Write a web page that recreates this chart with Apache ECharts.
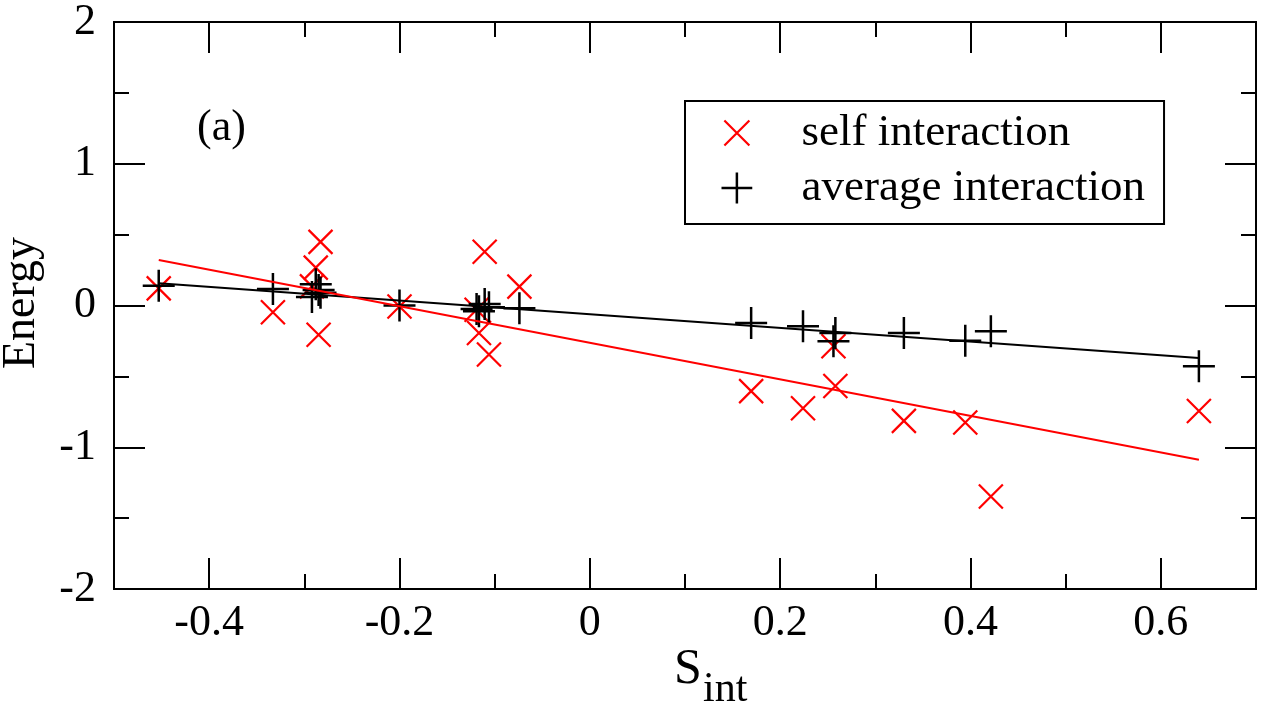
<!DOCTYPE html>
<html>
<head>
<meta charset="utf-8">
<script src="https://cdn.jsdelivr.net/npm/echarts@6/dist/echarts.min.js"></script>
<style>
  html, body { margin: 0; padding: 0; background: #ffffff; }
  #chart { width: 1262px; height: 712px; }
</style>
</head>
<body>
<div id="chart"></div>
<script>
// Overlap integral of each system and its two interaction energies
const sInt = [-0.453, -0.333, -0.288, -0.283, -0.292, -0.285, -0.200,
  -0.1105, -0.1165, -0.106, -0.119, -0.074,
  0.1695, 0.224, 0.258, 0.256, 0.330, 0.3945, 0.4214, 0.640];
const selfEnergy = [0.121, -0.047, 0.267, 0.449, 0.135, -0.206, -0.007,
  0.379, -0.194, -0.346, -0.03, 0.133,
  -0.604, -0.725, -0.568, -0.288, -0.814, -0.826, -1.347, -0.744];
const avgEnergy = [0.140, 0.117, 0.150, 0.090, 0.060, 0.110, 0.000,
  0.010, -0.040, -0.012, -0.025, -0.019,
  -0.124, -0.147, -0.194, -0.253, -0.194, -0.248, -0.182, -0.428];

// Linear fits, given at their two end points
const fitX = [-0.453, 0.640];
const selfFit = [0.321, -1.088];
const avgFit = [0.157, -0.370];

const xMajorTicks = [-0.4, -0.2, 0, 0.2, 0.4, 0.6];
const xMinorTicks = [-0.3, -0.1, 0.1, 0.3, 0.5];
const seriesNames = ['self interaction', 'average interaction'];

const FONT = 'Liberation Serif, Times New Roman, serif';
const crossPath = 'path://M3,3L29,29M29,3L3,29';
const plusPath = 'path://M16,0L16,32M0,16L32,16';
// legend icons padded on the right so the text sits further from the symbol
const crossIcon = 'path://M0,0M78,32M3,3L29,29M29,3L3,29';
const plusIcon = 'path://M0,0M78,32M0,16L32,16M16,0L16,32';

const frameLine = { show: true, onZero: false, lineStyle: { color: '#000', width: 2 } };

function xAxisDef(position, ticks, len, withLabels) {
  return {
    type: 'value', gridIndex: 0, position: position,
    min: -0.5, max: 0.7,
    axisLine: frameLine,
    axisTick: { show: true, inside: true, length: len, customValues: ticks,
      lineStyle: { color: '#000', width: 2 } },
    axisLabel: withLabels ? {
      show: true, customValues: ticks, margin: 12,
      color: '#000', fontFamily: FONT, fontSize: 44,
      formatter: v => String(Math.round(v * 10) / 10)
    } : { show: false },
    splitLine: { show: false }
  };
}

function yAxisDef(position, withLabels) {
  return {
    type: 'value', gridIndex: 0, position: position,
    min: -2, max: 2, interval: 1,
    axisLine: frameLine,
    axisTick: { show: true, inside: true, length: 31, lineStyle: { color: '#000', width: 2 } },
    minorTick: { show: true, splitNumber: 2, length: 15, lineStyle: { color: '#000', width: 2 } },
    axisLabel: withLabels ? {
      show: true, margin: 18, color: '#000', fontFamily: FONT, fontSize: 44
    } : { show: false },
    splitLine: { show: false }
  };
}

const chart = echarts.init(document.getElementById('chart'), null, { renderer: 'canvas' });

chart.setOption({
  animation: false,
  backgroundColor: '#ffffff',
  grid: { left: 114, right: 6, top: 19, bottom: 123, containLabel: false },
  xAxis: [
    xAxisDef('bottom', xMajorTicks, 31, true),
    xAxisDef('bottom', xMinorTicks, 15, false),
    xAxisDef('top', xMajorTicks, 31, false),
    xAxisDef('top', xMinorTicks, 15, false)
  ],
  yAxis: [
    yAxisDef('left', true),
    yAxisDef('right', false)
  ],
  legend: {
    orient: 'vertical',
    left: 685, top: 101,
    padding: [7, 19, 11, 34],
    itemGap: 5,
    itemWidth: 75, itemHeight: 32,
    borderColor: '#000', borderWidth: 2,
    backgroundColor: '#fff',
    selectedMode: false,
    textStyle: { color: '#000', fontFamily: FONT, fontSize: 45, lineHeight: 50 },
    data: [
      { name: seriesNames[0], icon: crossIcon,
        itemStyle: { color: 'none', borderColor: '#ff0000', borderWidth: 2.2, opacity: 1 } },
      { name: seriesNames[1], icon: plusIcon,
        itemStyle: { color: 'none', borderColor: '#000000', borderWidth: 2.5, opacity: 1 } }
    ]
  },
  graphic: [
    { type: 'text', left: 197, top: 106, z: 10,
      style: { text: '(a)', fill: '#000', font: '44px ' + FONT } },
    { type: 'text', x: 22, y: 303, rotation: Math.PI / 2, z: 10,
      style: { text: 'Energy', fill: '#000', font: '46px ' + FONT, align: 'center', verticalAlign: 'middle' } },
    { type: 'text', x: 674, y: 670, z: 10,
      style: { text: 'S', fill: '#000', font: '50px ' + FONT, align: 'left', verticalAlign: 'middle' } },
    { type: 'text', x: 703, y: 690, z: 10,
      style: { text: 'int', fill: '#000', font: '42px ' + FONT, align: 'left', verticalAlign: 'middle' } }
  ],
  series: [
    {
      type: 'scatter', name: seriesNames[0],
      xAxisIndex: 0, yAxisIndex: 0,
      data: sInt.map((x, i) => [x, selfEnergy[i]]),
      symbol: crossPath, symbolSize: 24,
      itemStyle: { color: 'none', borderColor: '#ff0000', borderWidth: 2.2, opacity: 1 },
      emphasis: { disabled: true },
      z: 2
    },
    {
      type: 'scatter', name: seriesNames[1],
      xAxisIndex: 0, yAxisIndex: 0,
      data: sInt.map((x, i) => [x, avgEnergy[i]]),
      symbol: plusPath, symbolSize: 32,
      itemStyle: { color: 'none', borderColor: '#000000', borderWidth: 2.5, opacity: 1 },
      emphasis: { disabled: true },
      z: 3
    },
    {
      type: 'line', name: 'average fit',
      xAxisIndex: 0, yAxisIndex: 0,
      data: fitX.map((x, i) => [x, avgFit[i]]),
      showSymbol: false, symbol: 'none',
      lineStyle: { color: '#000000', width: 2 },
      emphasis: { disabled: true },
      z: 4
    },
    {
      type: 'line', name: 'self fit',
      xAxisIndex: 0, yAxisIndex: 0,
      data: fitX.map((x, i) => [x, selfFit[i]]),
      showSymbol: false, symbol: 'none',
      lineStyle: { color: '#ff0000', width: 2 },
      emphasis: { disabled: true },
      z: 5
    }
  ]
});
</script>
</body>
</html>
